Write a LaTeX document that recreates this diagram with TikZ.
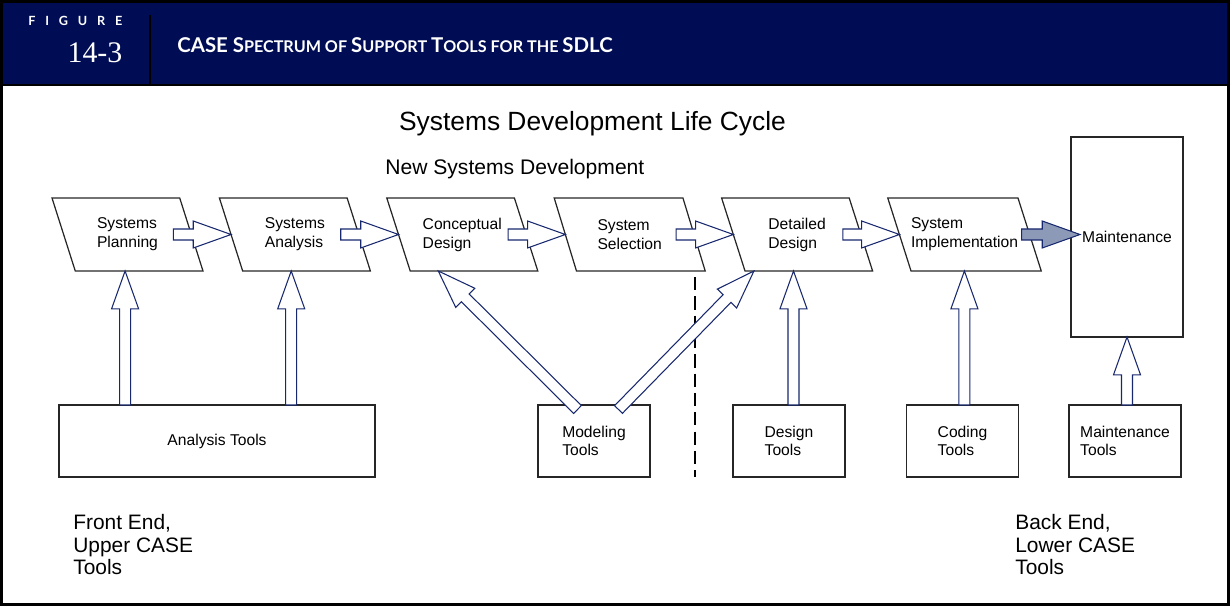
\documentclass[tikz,border=0pt]{standalone}
\usepackage{fontspec}
\setmainfont{Liberation Sans}
\newfontfamily\headfont{Lato}
\newfontfamily\numfont{Liberation Serif}
\usetikzlibrary{calc,shapes.geometric}

\definecolor{headnavy}{RGB}{0,13,84}
\definecolor{arrowblue}{RGB}{24,40,110}
\definecolor{arrowfill}{RGB}{140,154,184}

\newcommand\capbig[1]{{\fontsize{11.6}{13}\selectfont #1}}

\tikzset{
  stage/.style={draw=black!85, line width=0.7pt, shape=trapezium,
    trapezium left angle=108, trapezium right angle=72,
    trapezium stretches body, minimum width=30.2mm, minimum height=14.6mm,
    inner xsep=0pt, inner ysep=3.85mm, outer sep=0pt, align=left,
    font=\fontsize{8.9}{10.8}\selectfont},
  toolbox/.style={draw=black!85, line width=0.7pt, rectangle,
    minimum width=22.4mm, minimum height=14.4mm,
    inner sep=0pt, outer sep=0pt, align=left,
    font=\fontsize{8.9}{10.2}\selectfont},
  sidenote/.style={anchor=west, align=left, inner sep=0pt,
    font=\fontsize{11.9}{12.8}\selectfont},
  blockarrow/.style={draw=arrowblue, fill=white, line width=0.6pt,
    to path={let \p1=(\tikztostart), \p2=(\tikztotarget),
      \n1={atan2(\y2-\y1,\x2-\x1)},
      \n2={veclen(\x2-\x1,\y2-\y1)-21.5pt}
      in ($(\p1)+(\n1+90:1.1mm)$)
      -- ($(\p1)+(\n1:\n2)+(\n1+90:1.1mm)$)
      -- ($(\p1)+(\n1:\n2)+(\n1+90:2.7mm)$)
      -- (\p2)
      -- ($(\p1)+(\n1:\n2)+(\n1-90:2.7mm)$)
      -- ($(\p1)+(\n1:\n2)+(\n1-90:1.1mm)$)
      -- ($(\p1)+(\n1-90:1.1mm)$) -- cycle}},
  divider/.style={line width=1.4pt, dash pattern=on 7.5pt off 3.5pt},
}

\begin{document}
\begin{tikzpicture}[x=0.2mm, y=-0.2mm]
\useasboundingbox (0,0) rectangle (1230,606);

% header band
\fill[headnavy] (0,0) rectangle (1230,85);
\draw[line width=1.6pt] (0,85) -- (1230,85);
\draw[line width=1.6pt] (150,15) -- (150,85);
\draw[line width=1.6pt] (1.5,1.5) rectangle (1228.5,604.5);

\node[anchor=west, inner sep=0pt, text=white]
  (figword) at (28,21)
  {\headfont\bfseries\fontsize{7.2}{8}\selectfont F\hspace{5.6pt}I\hspace{5.6pt}G\hspace{5.6pt}U\hspace{5.6pt}R\hspace{5.6pt}E};
\node[anchor=base, inner sep=0pt, text=white]
  (fignum) at (95,63) {\numfont\fontsize{17}{18}\selectfont 14-3};
\node[anchor=base west, inner sep=0pt, text=white]
  (figtitle) at (177,53)
  {\headfont\bfseries\fontsize{9.2}{11}\selectfont
   \capbig{CASE S}PECTRUM OF \capbig{S}UPPORT \capbig{T}OOLS FOR THE \capbig{SDLC}};

% headings
\node[font=\fontsize{15}{18}\selectfont] (sdlc) at (592.5,124)
  {Systems Development Life Cycle};
\node[anchor=west, inner sep=0pt, font=\fontsize{12}{14}\selectfont]
  (newdev) at (385,169.5) {New Systems Development};

% phases
\node[stage] (plan) at (127.5,234.5) {Systems\\Planning};
\node[stage] (anal) at (294.9,234.5) {Systems\\Analysis};
\node[stage] (conc) at (462.3,234.5) {Conceptual\\Design};
\node[stage] (sel)  at (629.7,234.5) {System\\Selection};
\node[stage] (det)  at (797.1,234.5) {Detailed\\Design};
\node[stage] (impl) at (964.5,234.5) {System\\Implementation};

\node[toolbox, minimum height=40mm] (maint) at (1127,237) {Maintenance};

% tools
\node[toolbox, minimum width=63.2mm] (anat) at (217,441) {Analysis Tools};
\node[toolbox] (model) at (594,441) {Modeling\\Tools};
\node[toolbox] (dtool) at (789,441) {Design\\Tools};
\node[toolbox] (ctool) at (962.5,441) {Coding\\Tools};
\node[toolbox] (mtool) at (1125,441) {Maintenance\\Tools};

\node[sidenote] (front) at (73,545) {Front End,\\Upper CASE\\Tools};
\node[sidenote] (back) at (1015,545) {Back End,\\Lower CASE\\Tools};

% entry points on the phases
\coordinate (plan-in) at ($(plan.bottom left corner)!0.39!(plan.bottom right corner)$);
\coordinate (anal-in) at ($(anal.bottom left corner)!0.38!(anal.bottom right corner)$);
\coordinate (conc-in) at ($(conc.bottom left corner)!0.22!(conc.bottom right corner)$);
\coordinate (det-in1) at ($(det.bottom left corner)!0.07!(det.bottom right corner)$);
\coordinate (det-in2) at ($(det.bottom left corner)!0.38!(det.bottom right corner)$);
\coordinate (impl-in) at ($(impl.bottom left corner)!0.41!(impl.bottom right corner)$);
\coordinate (maint-in) at ($(maint.west |- impl.right side)+(9,0)$);
\coordinate (model-l) at ($(model.north)+(-16.5,4.5)$);
\coordinate (model-r) at ($(model.north)+(24.5,4.5)$);
\coordinate (split) at (695,277);

\draw[divider] (split) -- (split |- anat.south);

% flow between phases
\foreach \a/\b in {plan/anal, anal/conc, conc/sel, sel/det, det/impl}
  \draw[blockarrow] ($(\a.right side)+(-18,0)$) to (\b.left side);
\draw[blockarrow, fill=arrowfill] ($(impl.right side)+(-8,0)$) to (maint-in);

% tool support
\draw[blockarrow] (anat.north -| plan-in) to (plan-in);
\draw[blockarrow] (anat.north -| anal-in) to (anal-in);
\draw[blockarrow] (model-l) to (conc-in);
\draw[blockarrow] (model-r) to (det-in1);
\draw[blockarrow] (dtool.north -| det-in2) to (det-in2);
\draw[blockarrow] (ctool.north -| impl-in) to (impl-in);
\draw[blockarrow] (mtool.north -| maint.south) to (maint.south);

\end{tikzpicture}
\end{document}
